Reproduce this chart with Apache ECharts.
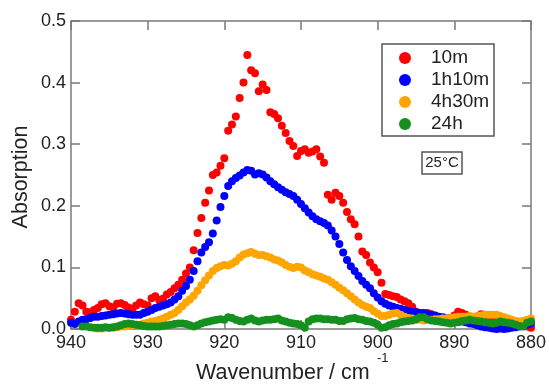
<!DOCTYPE html>
<html><head><meta charset="utf-8">
<script src="https://cdn.jsdelivr.net/npm/echarts@6/dist/echarts.min.js"></script>
<style>html,body{margin:0;padding:0;background:#fff}#c{width:549px;height:387px}</style>
</head><body><div id="c"></div>
<script>
const FONT = "'Liberation Sans', Arial, sans-serif";
const xTicks = [940, 930, 920, 910, 900, 890, 880];
const yTicks = [0.0, 0.1, 0.2, 0.3, 0.4, 0.5];
const seriesNames = ['10m', '1h10m', '4h30m', '24h'];
const seriesColors = ['#ff0000', '#0000ff', '#ffa500', '#14901e'];

const wavenumber = [
940,939.5,939,938.5,938,937.5,937,936.5,936,935.5,935,934.5,934,933.5,933,932.5,932,931.5,931,930.5,
930,929.5,929,928.5,928,927.5,927,926.5,926,925.5,925,924.5,924,923.5,923,922.5,922,921.5,921,920.5,
920,919.5,919,918.5,918,917.5,917,916.5,916,915.5,915,914.5,914,913.5,913,912.5,912,911.5,911,910.5,
910,909.5,909,908.5,908,907.5,907,906.5,906,905.5,905,904.5,904,903.5,903,902.5,902,901.5,901,900.5,
900,899.5,899,898.5,898,897.5,897,896.5,896,895.5,895,894.5,894,893.5,893,892.5,892,891.5,891,890.5,
890,889.5,889,888.5,888,887.5,887,886.5,886,885.5,885,884.5,884,883.5,883,882.5,882,881.5,881,880.5,880];

const abs10m = [
0.015,0.028,0.042,0.038,0.028,0.027,0.031,0.034,0.040,0.042,0.037,0.035,0.041,0.042,0.039,0.035,0.033,0.038,0.043,0.040,
0.038,0.050,0.053,0.047,0.049,0.056,0.060,0.066,0.072,0.080,0.090,0.100,0.128,0.156,0.180,0.205,0.225,0.250,0.254,0.265,
0.277,0.322,0.332,0.345,0.375,0.400,0.445,0.420,0.415,0.386,0.397,0.388,0.352,0.349,0.342,0.330,0.318,0.305,0.297,0.281,
0.289,0.292,0.286,0.288,0.292,0.280,0.270,0.218,0.210,0.221,0.216,0.205,0.190,0.178,0.170,0.150,0.126,0.120,0.108,0.100,
0.092,0.075,0.057,0.055,0.053,0.052,0.048,0.045,0.042,0.036,0.028,0.025,0.023,0.026,0.024,0.020,0.017,0.016,0.015,0.018,
0.022,0.028,0.026,0.023,0.018,0.015,0.020,0.024,0.023,0.019,0.017,0.011,0.010,0.012,0.010,0.009,0.008,0.007,0.006,0.004,0.002];

const abs1h10m = [
0.010,0.008,0.012,0.015,0.016,0.018,0.020,0.020,0.021,0.022,0.023,0.024,0.025,0.026,0.025,0.024,0.023,0.023,0.023,0.026,
0.028,0.031,0.034,0.036,0.038,0.040,0.043,0.048,0.053,0.062,0.070,0.080,0.094,0.110,0.124,0.133,0.141,0.155,0.176,0.198,
0.216,0.232,0.240,0.245,0.249,0.254,0.258,0.257,0.251,0.253,0.251,0.246,0.240,0.235,0.230,0.226,0.222,0.219,0.216,0.210,
0.203,0.196,0.189,0.183,0.178,0.175,0.172,0.168,0.160,0.150,0.138,0.124,0.112,0.102,0.094,0.086,0.078,0.072,0.066,0.058,
0.051,0.045,0.041,0.038,0.036,0.034,0.033,0.031,0.029,0.028,0.027,0.026,0.026,0.024,0.023,0.022,0.020,0.019,0.017,0.015,
0.014,0.013,0.012,0.011,0.009,0.008,0.006,0.004,0.003,0.002,0.001,0.000,0.001,0.000,0.001,0.002,0.003,0.004,0.005,0.007,0.009];

const abs4h30m = [
null,null,null,null,null,null,null,0.001,0.001,0.002,0.002,0.002,0.003,0.004,0.004,0.005,0.006,0.007,0.007,0.009,
0.010,0.012,0.013,0.015,0.017,0.020,0.023,0.026,0.031,0.037,0.043,0.048,0.054,0.062,0.071,0.079,0.087,0.094,0.099,0.102,
0.104,0.103,0.106,0.110,0.116,0.121,0.123,0.125,0.122,0.120,0.120,0.118,0.116,0.113,0.111,0.108,0.104,0.101,0.099,0.101,
0.100,0.095,0.092,0.089,0.087,0.085,0.082,0.080,0.076,0.072,0.067,0.063,0.058,0.053,0.048,0.043,0.039,0.036,0.034,0.029,
0.025,0.021,0.021,0.023,0.025,0.026,0.023,0.020,0.018,0.017,0.015,0.015,0.014,0.015,0.015,0.016,0.016,0.017,0.017,0.018,
0.019,0.020,0.020,0.020,0.021,0.020,0.021,0.022,0.023,0.023,0.023,0.023,0.021,0.019,0.017,0.015,0.013,0.012,0.013,0.015,0.017];

const abs24h = [
null,null,null,0.004,0.004,0.003,0.002,0.002,0.002,0.003,0.002,0.003,0.004,0.006,0.008,0.009,0.008,0.007,0.006,0.005,
0.004,0.004,0.004,0.004,0.005,0.006,0.007,0.008,0.009,0.009,0.008,0.006,0.004,0.006,0.009,0.011,0.012,0.014,0.015,0.016,
0.015,0.019,0.018,0.015,0.013,0.012,0.015,0.017,0.014,0.012,0.014,0.015,0.015,0.016,0.017,0.014,0.012,0.010,0.009,0.008,
0.006,0.002,0.012,0.016,0.017,0.017,0.016,0.016,0.015,0.015,0.013,0.013,0.016,0.017,0.018,0.016,0.015,0.013,0.012,0.010,
0.007,0.002,0.003,0.006,0.008,0.009,0.011,0.012,0.013,0.014,0.016,0.019,0.019,0.016,0.014,0.013,0.012,0.011,0.010,0.009,
0.010,0.011,0.013,0.014,0.015,0.014,0.013,0.012,0.011,0.010,0.009,0.010,0.012,0.011,0.010,0.009,0.007,0.005,0.004,0.010,0.012];

const allValues = [abs10m, abs1h10m, abs4h30m, abs24h];

function pairs(vals) {
  const out = [];
  for (let i = 0; i < wavenumber.length; i++) {
    if (vals[i] !== null && vals[i] !== undefined) out.push([wavenumber[i], vals[i]]);
  }
  return out;
}

const AX = '#7a7a7a';
const axisBase = {
  axisLine: { show: true, onZero: false, lineStyle: { color: AX, width: 1.5 } },
  axisTick: { show: true, inside: true, length: 9, lineStyle: { color: AX, width: 1.5 } },
  splitLine: { show: false }
};

const chart = echarts.init(document.getElementById('c'), null, { renderer: 'canvas' });
chart.setOption({
  animation: false,
  backgroundColor: '#fff',
  grid: { left: 71, right: 17, top: 21, bottom: 58, containLabel: false },
  xAxis: [
    Object.assign({
      type: 'value', min: xTicks[xTicks.length - 1], max: xTicks[0], interval: 10, inverse: true, position: 'bottom',
      axisLabel: { show: true, margin: 5, fontSize: 18, color: '#222', fontFamily: FONT }
    }, axisBase),
    Object.assign({
      type: 'value', min: xTicks[xTicks.length - 1], max: xTicks[0], interval: 10, inverse: true, position: 'top',
      axisLabel: { show: false }
    }, axisBase)
  ],
  yAxis: [
    Object.assign({
      type: 'value', min: yTicks[0], max: yTicks[yTicks.length - 1], interval: 0.1, position: 'left',
      axisLabel: { show: true, margin: 5, fontSize: 18, color: '#222', fontFamily: FONT,
        formatter: v => v.toFixed(1) }
    }, axisBase),
    Object.assign({
      type: 'value', min: yTicks[0], max: yTicks[yTicks.length - 1], interval: 0.1, position: 'right',
      axisLabel: { show: false }
    }, axisBase)
  ],
  legend: {
    left: 399, top: 47, orient: 'vertical', padding: 0, itemGap: 0,
    itemWidth: 12, itemHeight: 12, icon: 'circle',
    textStyle: { fontSize: 19, lineHeight: 22, color: '#222', fontFamily: FONT, padding: [0, 0, 0, 15] },
    data: seriesNames
  },
  series: seriesNames.map((n, k) => ({
    name: n, type: 'scatter', symbol: 'circle', symbolSize: 8,
    itemStyle: { color: seriesColors[k], opacity: 1 },
    data: pairs(allValues[k]),
    silent: true
  })),
  graphic: [
    { type: 'rect', shape: { x: 382, y: 44, width: 112, height: 92 },
      style: { fill: 'none', stroke: '#555', lineWidth: 1.5 }, z: 10 },
    { type: 'rect', shape: { x: 422, y: 152, width: 40, height: 22 },
      style: { fill: 'none', stroke: '#555', lineWidth: 1.5 }, z: 10 },
    { type: 'text', x: 442, y: 163, z: 10,
      style: { text: '25°C', font: "15px 'Liberation Sans', Arial", fill: '#222', align: 'center', verticalAlign: 'middle' } },
    { type: 'text', x: 21, y: 177, rotation: Math.PI / 2, z: 10,
      style: { text: 'Absorption', font: "21.5px 'Liberation Sans', Arial", fill: '#222', align: 'center', verticalAlign: 'middle' } },
    { type: 'text', x: 196, y: 373, z: 10,
      style: { text: 'Wavenumber / cm', font: "21.5px 'Liberation Sans', Arial", fill: '#222', align: 'left', verticalAlign: 'middle' } },
    { type: 'text', x: 377, y: 358, z: 10,
      style: { text: '-1', font: "13px 'Liberation Sans', Arial", fill: '#222', align: 'left', verticalAlign: 'middle' } }
  ]
});
</script>
</body></html>
